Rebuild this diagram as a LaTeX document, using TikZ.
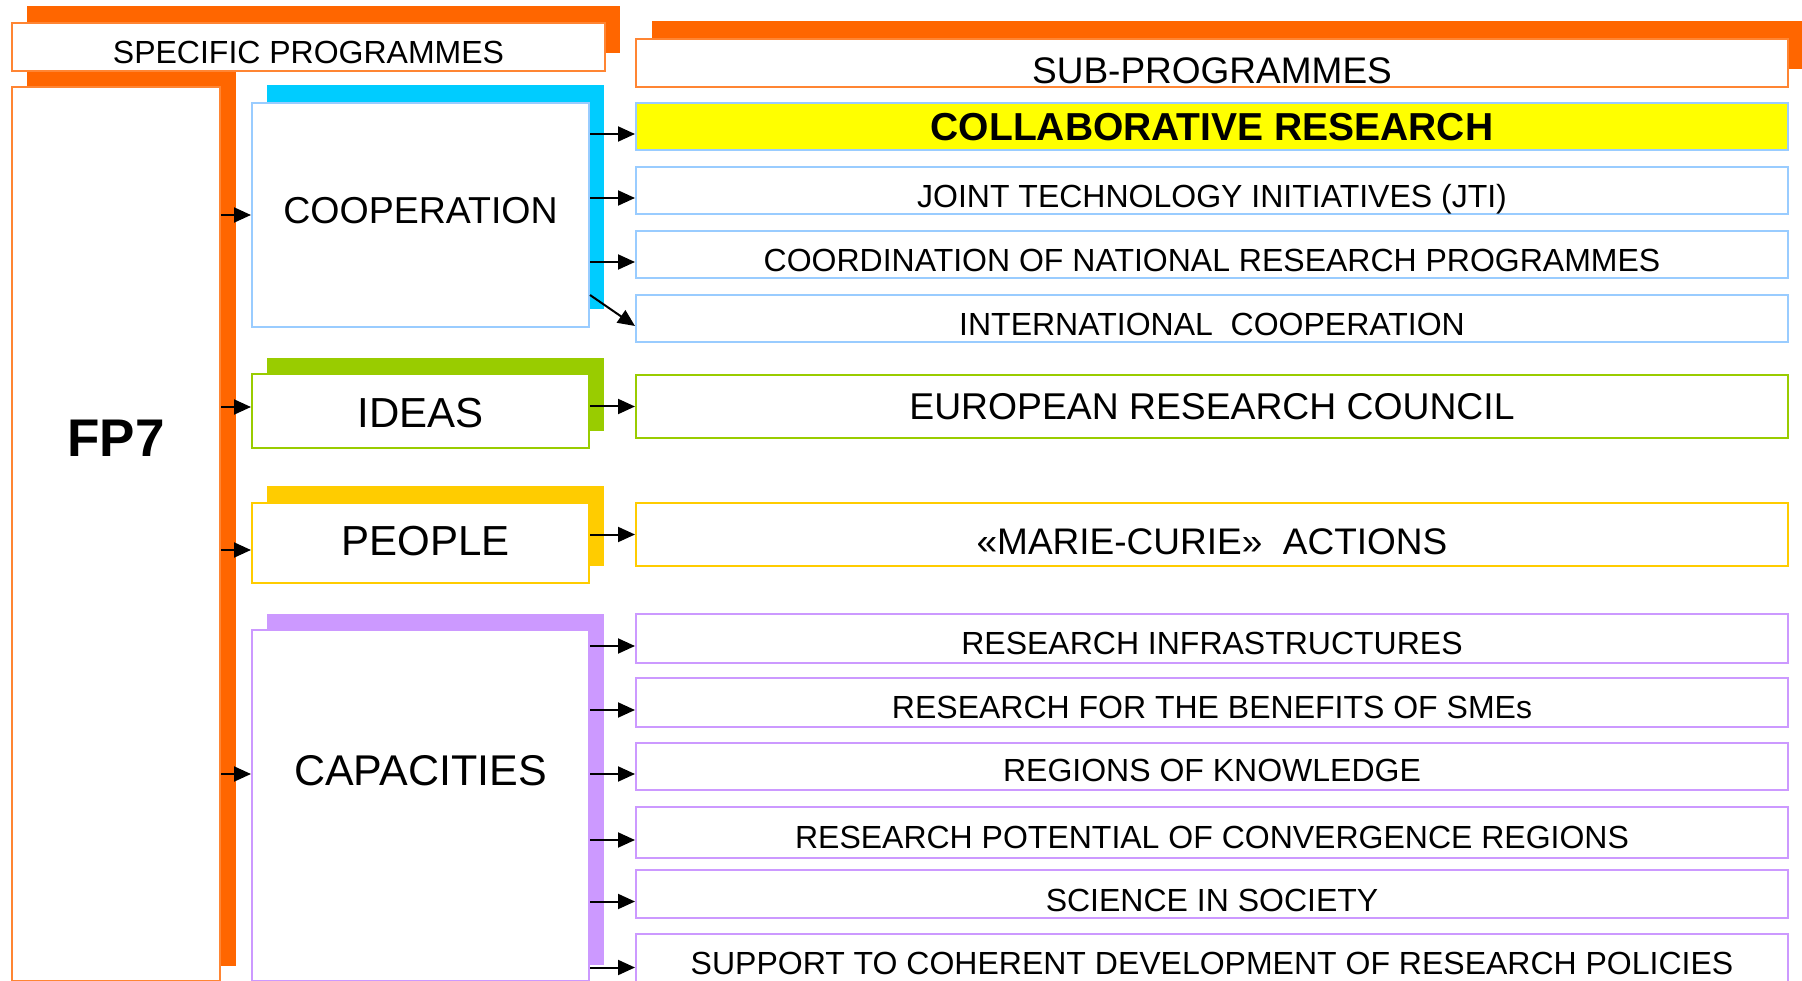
\documentclass[tikz,border=0pt]{standalone}
\usepackage{fontspec}
\setmainfont{Liberation Sans}
\usetikzlibrary{arrows.meta}
\definecolor{cOr}{HTML}{FF6600}
\definecolor{cOrB}{HTML}{FF8533}
\definecolor{cBl}{HTML}{00CCFF}
\definecolor{cBlB}{HTML}{99CCFF}
\definecolor{cGr}{HTML}{99CC00}
\definecolor{cYe}{HTML}{FFCC00}
\definecolor{cPu}{HTML}{CC99FF}
\definecolor{cYF}{HTML}{FFFF00}
\newcommand\fsz[1]{\fontsize{#1}{#1}\selectfont}
\begin{document}
\begin{tikzpicture}[x=1pt,y=-1pt,
 bx/.style={draw, line width=2pt, fill=white, inner sep=0pt, anchor=north west},
 rb/.style={bx, minimum width=1152pt, font=\fsz{32}},
 lb/.style={bx, minimum width=337pt, font=\fsz{42}},
 arr/.style={line width=2pt, -{Triangle[length=17pt,width=15pt]}}]
\useasboundingbox (0,0) rectangle (1802,981);
% shadows
\fill[cOr] (27,6) rectangle (620,53);
\fill[cOr] (652,21) rectangle (1803,69);
\fill[cOr] (27,69) rectangle (236,966);
\fill[cBl] (267,85) rectangle (604,309);
\fill[cGr] (267,358) rectangle (604,431);
\fill[cYe] (267,486) rectangle (604,566);
\fill[cPu] (267,614) rectangle (604,965);
% header boxes
\node[bx, draw=cOrB, minimum width=593pt, text height=41pt, text depth=7pt, font=\fsz{32}] (spec) at (11,22) {SPECIFIC PROGRAMMES};
\node[bx, draw=cOrB, minimum width=1152pt, text height=45pt, text depth=3pt, font=\fsz{37}] (sub) at (635,38) {SUB-PROGRAMMES};
\node[bx, draw=cOrB, minimum width=208pt, text height=369pt, text depth=525pt, font=\fsz{53}\bfseries] (fp7) at (11,86) {FP7};
% programme boxes
\node[lb, draw=cBlB, text height=121pt, text depth=103pt, font=\fsz{37.5}] (coop) at (251,102) {COOPERATION};
\node[lb, draw=cGr, text height=54pt, text depth=20pt] (ideas) at (251,373) {IDEAS};
\node[lb, draw=cYe, text height=52pt, text depth=28pt] (people) at (251,502) {\hspace*{10pt}PEOPLE};
\node[lb, draw=cPu, text height=155pt, text depth=196pt, font=\fsz{43}] (cap) at (251,629) {CAPACITIES};
% sub-programme boxes
\node[rb, draw=cBlB, fill=cYF, text height=38pt, text depth=9pt, font=\fsz{39}\bfseries] (r1) at (635,102) {COLLABORATIVE RESEARCH};
\node[rb, draw=cBlB, text height=41pt, text depth=6pt] (r2) at (635,166) {JOINT TECHNOLOGY INITIATIVES (JTI)};
\node[rb, draw=cBlB, text height=41pt, text depth=6pt] (r3) at (635,230) {COORDINATION OF NATIONAL RESEARCH PROGRAMMES};
\node[rb, draw=cBlB, text height=41pt, text depth=6pt] (r4) at (635,294) {INTERNATIONAL\ \ COOPERATION};
\node[rb, draw=cGr, text height=45pt, text depth=18pt, font=\fsz{37.3}] (r5) at (635,374) {EUROPEAN RESEARCH COUNCIL};
\node[rb, draw=cYe, text height=51pt, text depth=12pt, font=\fsz{37}] (r6) at (635,502) {«MARIE-CURIE»\ \ ACTIONS};
\node[rb, draw=cPu, text height=40pt, text depth=9pt] (r7) at (635,613) {RESEARCH INFRASTRUCTURES};
\node[rb, draw=cPu, text height=40pt, text depth=9pt] (r8) at (635,677) {RESEARCH FOR THE BENEFITS OF SMEs};
\node[rb, draw=cPu, text height=38pt, text depth=9pt] (r9) at (635,742) {REGIONS OF KNOWLEDGE};
\node[rb, draw=cPu, text height=41pt, text depth=10pt] (r10) at (635,806) {RESEARCH POTENTIAL OF CONVERGENCE REGIONS};
\node[rb, draw=cPu, text height=41pt, text depth=7pt] (r11) at (635,869) {SCIENCE IN SOCIETY};
\node[rb, draw=cPu, text height=40pt, text depth=12pt] (r12) at (635,933) {SUPPORT TO COHERENT DEVELOPMENT OF RESEARCH POLICIES};
% arrows from FP7
\coordinate (lc) at (coop.west);
\coordinate (li) at ([yshift=4pt]ideas.west);
\coordinate (lp) at ([yshift=-7pt]people.west);
\coordinate (lk) at ([yshift=31.5pt]cap.west);
\foreach \c in {lc,li,lp,lk} \draw[arr] (fp7.east |- \c) -- (\c);
% arrows to sub-programmes
\foreach \r in {r1,r2,r3} {
  \coordinate (t\r) at ([yshift=-7.5pt]\r.west);
  \draw[arr] (coop.east |- t\r) -- (t\r);
}
\draw[arr] ([yshift=33pt]coop.south east) -- ([yshift=-7.5pt]r4.west);
\draw[arr] (ideas.east |- r5.west) -- (r5.west);
\draw[arr] (people.east |- r6.west) -- (r6.west);
\foreach \r in {r7,r8,r9,r10,r11,r12} {
  \coordinate (t\r) at ([yshift=-7.5pt]\r.west);
  \draw[arr] (cap.east |- t\r) -- (t\r);
}
\end{tikzpicture}
\end{document}
